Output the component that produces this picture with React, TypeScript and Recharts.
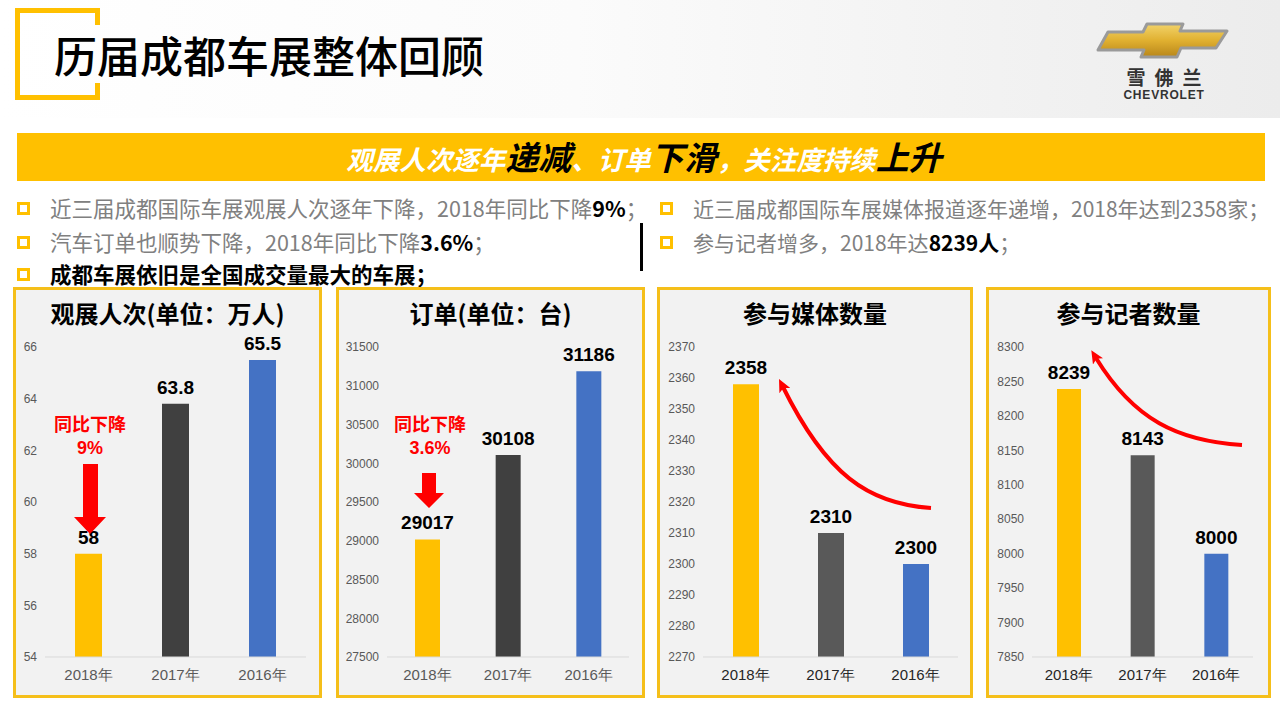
import React from 'react';
import { BarChart, Bar, XAxis, YAxis, Cell, LabelList } from 'recharts';

const years = ['2018年', '2017年', '2016年'];
const visitors = [58, 63.8, 65.5];
const orders = [29017, 30108, 31186];
const media = [2358, 2310, 2300];
const reporters = [8239, 8143, 8000];

const visitorTicks = [54, 56, 58, 60, 62, 64, 66];
const orderTicks = [27500, 28000, 28500, 29000, 29500, 30000, 30500, 31000, 31500];
const mediaTicks = [2270, 2280, 2290, 2300, 2310, 2320, 2330, 2340, 2350, 2360, 2370];
const reporterTicks = [7850, 7900, 7950, 8000, 8050, 8100, 8150, 8200, 8250, 8300];

const YELLOW = '#FFC000';
const BLUE = '#4472C4';
const RED = '#FF0000';
const CJK = '"Noto Sans CJK SC", "Noto Sans", sans-serif';
const NUM = '"Liberation Sans", Arial, sans-serif';

const PLOT_TOP = 347;
const PLOT_BOTTOM = 657;
const TOP_PAD = 28;
const YW = 45;

interface YearBarsProps {
  values: number[];
  ticks: number[];
  left: number;
  right: number;
  dark: string;
  barSize: number;
  xColor: string;
}

function YearBars({ values, ticks, left, right, dark, barSize, xColor }: YearBarsProps) {
  const data = years.map((y, i) => ({ year: y, value: values[i] }));
  const colors = [YELLOW, dark, BLUE];
  return (
    <div style={{ position: 'absolute', left: left - YW, top: PLOT_TOP - TOP_PAD }}>
      <BarChart
        width={right - left + YW + 6}
        height={PLOT_BOTTOM - PLOT_TOP + TOP_PAD + 40}
        data={data}
        margin={{ top: TOP_PAD, right: 6, left: 0, bottom: 0 }}
      >
        <XAxis
          dataKey="year"
          height={40}
          tickLine={false}
          axisLine={{ stroke: '#d9d9d9' }}
          tickMargin={6}
          tick={{ fontSize: 15, fill: xColor, fontFamily: NUM }}
        />
        <YAxis
          width={YW}
          domain={[ticks[0], ticks[ticks.length - 1]]}
          ticks={ticks}
          interval={0}
          allowDataOverflow
          tickLine={false}
          axisLine={false}
          tick={{ fontSize: 12, fill: '#595959', fontFamily: NUM }}
        />
        <Bar dataKey="value" barSize={barSize} isAnimationActive={false}>
          {data.map((d, i) => (
            <Cell key={d.year} fill={colors[i]} />
          ))}
          <LabelList
            dataKey="value"
            position="top"
            offset={10}
            fill="#000"
            fontSize={19}
            fontWeight={700}
            fontFamily={NUM}
          />
        </Bar>
      </BarChart>
    </div>
  );
}

function Panel({ x, y, w, h, title }: { x: number; y: number; w: number; h: number; title: string }) {
  return (
    <div
      style={{
        position: 'absolute',
        left: x,
        top: y,
        width: w,
        height: h,
        boxSizing: 'border-box',
        border: '3px solid #F5BF1A',
        background: '#f2f2f2',
      }}
    >
      <div
        style={{
          position: 'absolute',
          left: 0,
          right: 0,
          top: 7,
          textAlign: 'center',
          fontFamily: CJK,
          fontWeight: 700,
          fontSize: 24,
          color: '#000',
          lineHeight: '32px',
          whiteSpace: 'nowrap',
        }}
      >
        {title}
      </div>
    </div>
  );
}

function Square({ x, y }: { x: number; y: number }) {
  return (
    <div
      style={{
        position: 'absolute',
        left: x,
        top: y,
        width: 13,
        height: 13,
        boxSizing: 'border-box',
        border: '3px solid ' + YELLOW,
      }}
    />
  );
}

const bulletText: React.CSSProperties = {
  position: 'absolute',
  fontFamily: CJK,
  fontSize: 21.5,
  color: '#808080',
  whiteSpace: 'nowrap',
  lineHeight: '30px',
};

const B = ({ children }: { children: React.ReactNode }) => (
  <span style={{ color: '#000', fontWeight: 700 }}>{children}</span>
);

function Logo() {
  return (
    <div style={{ position: 'absolute', left: 1090, top: 18, width: 150, height: 90 }}>
      <svg width={150} height={45} style={{ position: 'absolute', left: 0, top: 0 }}>
        <defs>
          <linearGradient id="gold" x1="0" y1="0" x2="0" y2="1">
            <stop offset="0%" stopColor="#F2D36A" />
            <stop offset="50%" stopColor="#E0B030" />
            <stop offset="100%" stopColor="#B8861A" />
          </linearGradient>
        </defs>
        <polygon
          points="18,14 53,14 57,6 93,6 90,13 137,13 126,30 91,30 87,39 51,39 54,32 8,32"
          fill="url(#gold)"
          stroke="#9a9a9a"
          strokeWidth={3}
          strokeLinejoin="round"
        />
      </svg>
      <div
        style={{
          position: 'absolute',
          left: 22,
          top: 48,
          width: 104,
          textAlign: 'center',
          fontFamily: CJK,
          fontWeight: 700,
          fontSize: 19,
          letterSpacing: 9,
          color: '#333',
          lineHeight: '22px',
          paddingLeft: 9,
          boxSizing: 'border-box',
        }}
      >
        雪佛兰
      </div>
      <div
        style={{
          position: 'absolute',
          left: 22,
          top: 71,
          width: 104,
          textAlign: 'center',
          fontFamily: NUM,
          fontWeight: 700,
          fontSize: 12,
          letterSpacing: 0.8,
          color: '#333',
          lineHeight: '12px',
        }}
      >
        CHEVROLET
      </div>
    </div>
  );
}

function Annotations() {
  const redText: React.CSSProperties = {
    position: 'absolute',
    width: 100,
    textAlign: 'center',
    fontFamily: CJK,
    fontWeight: 700,
    fontSize: 18,
    color: RED,
    lineHeight: '20px',
    whiteSpace: 'nowrap',
  };
  const redNum: React.CSSProperties = { ...redText, fontFamily: NUM };
  return (
    <>
      <div style={{ ...redText, left: 40, top: 413 }}>同比下降</div>
      <div style={{ ...redNum, left: 40, top: 438 }}>9%</div>
      <div style={{ ...redText, left: 380, top: 413 }}>同比下降</div>
      <div style={{ ...redNum, left: 380, top: 438 }}>3.6%</div>
      <svg width={1280} height={720} style={{ position: 'absolute', left: 0, top: 0, pointerEvents: 'none' }}>
        <defs>
          <marker id="head" markerWidth="13" markerHeight="12" refX="4" refY="6" orient="auto" markerUnits="userSpaceOnUse">
            <path d="M0,0 L13,6 L0,12 L3,6 Z" fill={RED} />
          </marker>
        </defs>
        {/* down arrows */}
        <polygon points="83,464 98,464 98,517 106,517 90,534 74,517 83,517" fill={RED} />
        <polygon points="422,473 436,473 436,493 444,493 429,508 414,493 422,493" fill={RED} />
        {/* curved arrows */}
        <path d="M931,508 C868,504 826,474 783,387" stroke={RED} strokeWidth={4} fill="none" markerEnd="url(#head)" />
        <path d="M1242,445 C1178,441 1134,420 1096,358" stroke={RED} strokeWidth={4} fill="none" markerEnd="url(#head)" />
      </svg>
    </>
  );
}

export default function App() {
  return (
    <div
      style={{
        position: 'absolute',
        left: 0,
        top: 0,
        width: 1280,
        height: 720,
        overflow: 'hidden',
        background: '#ffffff',
      }}
    >
      {/* header */}
      <div
        style={{
          position: 'absolute',
          left: 0,
          top: 0,
          width: 1280,
          height: 118,
          background: 'linear-gradient(90deg, #ffffff 0%, #fbfbfb 45%, #ececec 100%)',
        }}
      />
      <div style={{ position: 'absolute', left: 15, top: 8, width: 5, height: 92, background: YELLOW }} />
      <div style={{ position: 'absolute', left: 15, top: 8, width: 85, height: 5, background: YELLOW }} />
      <div style={{ position: 'absolute', left: 15, top: 95, width: 85, height: 5, background: YELLOW }} />
      <div style={{ position: 'absolute', left: 95, top: 8, width: 5, height: 17, background: YELLOW }} />
      <div style={{ position: 'absolute', left: 95, top: 83, width: 5, height: 17, background: YELLOW }} />
      <div
        style={{
          position: 'absolute',
          left: 54,
          top: 27,
          fontFamily: CJK,
          fontWeight: 500,
          fontSize: 43,
          lineHeight: '54px',
          color: '#000',
          whiteSpace: 'nowrap',
        }}
      >
        历届成都车展整体回顾
      </div>
      <Logo />

      {/* banner */}
      <div
        style={{
          position: 'absolute',
          left: 17,
          top: 133,
          width: 1248,
          height: 48,
          background: YELLOW,
          display: 'flex',
          justifyContent: 'center',
          alignItems: 'baseline',
          fontFamily: CJK,
          fontWeight: 700,
          fontStyle: 'italic',
          lineHeight: '46px',
          whiteSpace: 'nowrap',
          paddingLeft: 6,
          boxSizing: 'border-box',
        }}
      >
        <span style={{ color: '#fff', fontSize: 26.5 }}>观展人次逐年</span>
        <span style={{ color: '#000', fontSize: 33 }}>递减</span>
        <span style={{ color: '#fff', fontSize: 26.5 }}>、订单</span>
        <span style={{ color: '#000', fontSize: 33 }}>下滑</span>
        <span style={{ color: '#fff', fontSize: 26.5 }}>，关注度持续</span>
        <span style={{ color: '#000', fontSize: 33 }}>上升</span>
      </div>

      {/* bullets */}
      <Square x={17} y={202} />
      <Square x={17} y={236} />
      <Square x={17} y={268} />
      <div style={{ ...bulletText, left: 50, top: 193 }}>
        近三届成都国际车展观展人次逐年下降，2018年同比下降<B>9%</B>；
      </div>
      <div style={{ ...bulletText, left: 50, top: 227 }}>
        汽车订单也顺势下降，2018年同比下降<B>3.6%</B>；
      </div>
      <div style={{ ...bulletText, left: 50, top: 259, color: '#000', fontWeight: 700 }}>
        成都车展依旧是全国成交量最大的车展；
      </div>
      <div style={{ position: 'absolute', left: 640, top: 223, width: 3, height: 48, background: '#000' }} />
      <Square x={660} y={202} />
      <Square x={660} y={236} />
      <div style={{ ...bulletText, fontSize: 21, left: 693, top: 193 }}>
        近三届成都国际车展媒体报道逐年递增，2018年达到2358家；
      </div>
      <div style={{ ...bulletText, fontSize: 21, left: 693, top: 227 }}>
        参与记者增多，2018年达<B>8239人</B>；
      </div>

      {/* panels */}
      <Panel x={13} y={287} w={309} h={411} title="观展人次(单位：万人)" />
      <Panel x={336} y={287} w={309} h={411} title="订单(单位：台)" />
      <Panel x={657} y={287} w={316} h={411} title="参与媒体数量" />
      <Panel x={986} y={287} w={285} h={411} title="参与记者数量" />

      <YearBars values={visitors} ticks={visitorTicks} left={45} right={306} dark="#404040" barSize={27} xColor="#595959" />
      <YearBars values={orders} ticks={orderTicks} left={387} right={629} dark="#404040" barSize={25} xColor="#595959" />
      <YearBars values={media} ticks={mediaTicks} left={703} right={958} dark="#595959" barSize={26} xColor="#262626" />
      <YearBars values={reporters} ticks={reporterTicks} left={1032} right={1253} dark="#595959" barSize={24} xColor="#262626" />

      <Annotations />
    </div>
  );
}
